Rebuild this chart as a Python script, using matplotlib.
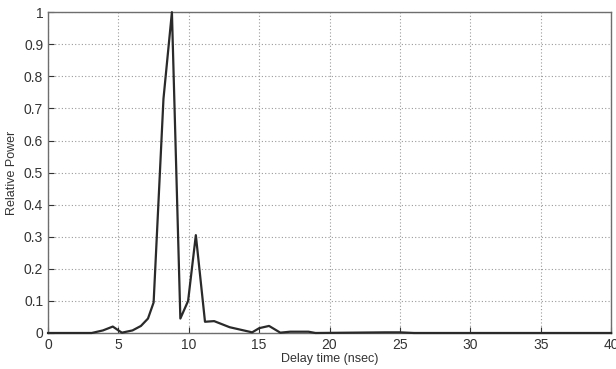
import matplotlib
matplotlib.use("Agg")
import matplotlib.pyplot as plt

delay_ns = [0, 3.1, 3.9, 4.6, 5.0, 5.25, 6.0, 6.6, 7.1, 7.5, 8.2, 8.8, 9.4, 9.95,
            10.5, 11.15, 11.8, 12.9, 14.5, 15.0, 15.7, 16.5, 17.2, 18.5, 19.0,
            24.0, 25.0, 26.0, 40]
rel_power = [0, 0, 0.008, 0.02, 0.008, 0.001, 0.008, 0.022, 0.045, 0.095, 0.73, 1.0,
             0.045, 0.1, 0.305, 0.035, 0.037, 0.018, 0.002, 0.015, 0.022, 0.001,
             0.004, 0.004, 0.0, 0.002, 0.002, 0.0, 0.0]

xticks = [0, 5, 10, 15, 20, 25, 30, 35, 40]
yticks = [0, 0.1, 0.2, 0.3, 0.4, 0.5, 0.6, 0.7, 0.8, 0.9, 1]
ytick_labels = ["0", "0.1", "0.2", "0.3", "0.4", "0.5", "0.6", "0.7", "0.8", "0.9", "1"]

plt.rcParams['font.family'] = ['Liberation Sans', 'DejaVu Sans']

fig = plt.figure(figsize=(6.16, 3.69), dpi=100)
ax = fig.add_axes([0.078, 0.0976, 0.914, 0.8694])

ax.plot(delay_ns, rel_power, color='#2a2a2a', linewidth=1.6, clip_on=False, zorder=3)

ax.set_xlim(0, 40)
ax.set_ylim(0, 1)
ax.set_xticks(xticks)
ax.set_xticklabels([str(t) for t in xticks])
ax.set_yticks(yticks)
ax.set_yticklabels(ytick_labels)
ax.grid(True, linestyle=(0, (1, 2)), color='#9a9a9a', linewidth=0.8)
ax.tick_params(direction='in', length=4, labelsize=10, colors='#333333', width=0.8)
for s in ax.spines.values():
    s.set_color('#6e6e6e')
    s.set_linewidth(1.0)

ax.set_xlabel('Delay time (nsec)', fontsize=9, color='#333333', labelpad=1)
ax.set_ylabel('Relative Power', fontsize=9, color='#333333', labelpad=4)

fig.savefig('out.png', dpi=100)
